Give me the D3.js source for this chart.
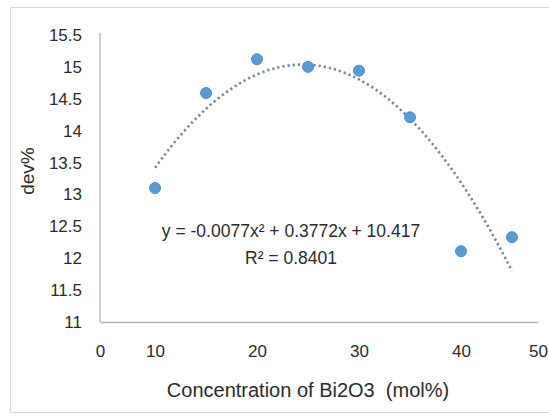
<!DOCTYPE html>
<html>
<head>
<meta charset="utf-8">
<script src="https://cdn.jsdelivr.net/npm/d3@7"></script>
<style>
  body { margin: 0; background: #fff; }
  #chart { width: 549px; height: 417px; }
  text { font-family: "Liberation Sans", Arial, sans-serif; fill: #2b2b2b; }
</style>
</head>
<body>
<div id="chart"></div>
<script>
// Data
const concentration = [10, 15, 20, 25, 30, 35, 40, 45];
const devPercent = [13.1, 14.59, 15.12, 15.0, 14.94, 14.21, 12.11, 12.33];

// Trendline (polynomial, order 2) as printed on the chart
const trendCoef = [10.417, 0.3772, -0.0077]; // c0, c1, c2
const trendRange = [10, 45];
const trendLabel = ["y = -0.0077x\u00b2 + 0.3772x + 10.417", "R\u00b2 = 0.8401"];

// Axis ticks
const xTicks = [0, 10, 20, 30, 40, 50];
const yTicks = [11, 11.5, 12, 12.5, 13, 13.5, 14, 14.5, 15, 15.5];
const xDomain = [4.6, 47.55];
const yDomain = [11, 15.5];

const width = 549, height = 417;
const plot = { left: 100, right: 538, top: 35, bottom: 322 };

const svg = d3
  .select("#chart")
  .append("svg")
  .attr("width", width)
  .attr("height", height);

// outer chart frame
svg
  .append("rect")
  .attr("x", 10.5)
  .attr("y", 7.5)
  .attr("width", 560)
  .attr("height", 405)
  .attr("fill", "#fff")
  .attr("stroke", "#d9d9d9");

// Scales (x clamped so the 0 and 50 labels sit on the plot edges)
const x = d3.scaleLinear().domain(xDomain).range([plot.left, plot.right]).clamp(true);
const y = d3.scaleLinear().domain(yDomain).range([plot.bottom, plot.top]);

// x axis
const xAxis = svg
  .append("g")
  .attr("transform", `translate(0, ${plot.bottom})`)
  .call(d3.axisBottom(x).tickValues(xTicks).tickSize(0).tickPadding(23).tickFormat(d3.format("d")));
xAxis.select(".domain").attr("stroke", "#b3b3b3").attr("stroke-width", 1.3);
xAxis.selectAll("text").attr("font-size", 17).attr("fill", "#2b2b2b")
  .style("font-family", "'Liberation Sans', Arial, sans-serif");

// y axis
const yAxis = svg
  .append("g")
  .attr("transform", `translate(${plot.left}, 0)`)
  .call(d3.axisLeft(y).tickValues(yTicks).tickSize(0).tickPadding(18).tickFormat((d) => String(d)));
yAxis.select(".domain").attr("stroke", "#b3b3b3").attr("stroke-width", 1.3)
  .attr("d", `M0,${plot.top - 2}V${plot.bottom}`);
yAxis.selectAll("text").attr("font-size", 17).attr("fill", "#2b2b2b")
  .style("font-family", "'Liberation Sans', Arial, sans-serif");

// Trendline
const trendX = d3.range(trendRange[0], trendRange[1] + 0.001, 0.5);
const trendLine = d3
  .line()
  .x((d) => x(d))
  .y((d) => y(trendCoef[0] + trendCoef[1] * d + trendCoef[2] * d * d))
  .curve(d3.curveMonotoneX);

svg
  .append("path")
  .datum(trendX)
  .attr("fill", "none")
  .attr("stroke", "#72859e")
  .attr("stroke-width", 2.6)
  .attr("stroke-dasharray", "2.2,3")
  .attr("d", trendLine);

// Points
svg
  .selectAll(".dot")
  .data(concentration)
  .enter()
  .append("circle")
  .attr("class", "dot")
  .attr("cx", (d) => x(d))
  .attr("cy", (d, i) => y(devPercent[i]))
  .attr("r", 5.5)
  .attr("fill", "#5b9bd5")
  .attr("stroke", "#4f8cc4")
  .attr("stroke-width", 1);

// Equation label
svg
  .selectAll(".eq")
  .data(trendLabel)
  .enter()
  .append("text")
  .attr("class", "eq")
  .attr("x", 291)
  .attr("y", (d, i) => 237 + i * 27)
  .attr("text-anchor", "middle")
  .attr("font-size", 17.5)
  .text((d) => d);

// Axis titles
svg
  .append("text")
  .attr("x", 308)
  .attr("y", 397)
  .attr("text-anchor", "middle")
  .attr("font-size", 20)
  .text("Concentration of Bi2O3\u00a0 (mol%)");

svg
  .append("text")
  .attr("transform", "translate(34, 171) rotate(-90)")
  .attr("text-anchor", "middle")
  .attr("font-size", 19)
  .text("dev%");
</script>
</body>
</html>
